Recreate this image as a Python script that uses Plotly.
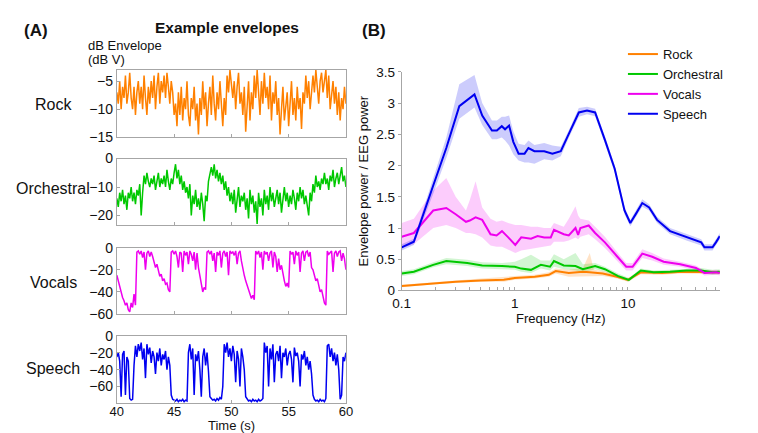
import plotly.graph_objects as go

# ---------------- Panel A: example envelopes (dB V), t = 40..60 s, step 0.125 s
time_s = [40 + i * 0.125 for i in range(161)]

rock_env = [-7, -9, -5, -10, -6, -8, -4, -9, -7,
            -3.5, -8, -10, -6, -11, -7, -5, -9,
            -6, -10, -4, -8, -11, -6, -9, -5,
            -8, -4, -10, -6, -3.5, -9, -5, -7,
            -4, -8, -3.5, -6, -9, -5, -7, -11,
            -9, -13, -7, -11, -6, -12, -8, -10,
            -5, -11, -13, -8, -10, -6, -12, -9,
            -14.5, -8, -11, -5, -10, -7, -13, -9,
            -6, -11, -4, -9, -12, -7, -10, -5,
            -9, -13, -8, -11, -4, -7, -3, -6,
            -8, -5, -10, -6, -3.5, -9, -7, -11,
            -6, -14, -9, -5, -12, -7, -10, -4,
            -8, -3, -7, -11, -5, -9, -3.5, -8,
            -6, -10, -4, -12, -7, -9, -5, -11,
            -8, -14.5, -10, -6, -12, -9, -7, -13,
            -9, -5, -11, -8, -12, -6, -10, -8,
            -13.5, -7, -9, -4, -8, -5, -10, -6,
            -4, -7, -3, -6, -9, -5, -3.5, -7,
            -5, -3, -8, -4, -10, -7, -5, -9,
            -6, -11, -7, -12, -8, -10, -6, -9]

orch_env = [-14, -17, -12, -15, -11, -16, -13, -18, -12,
            -14, -10, -15, -12, -16, -11, -13, -9,
            -20, -12, -6, -9, -5, -8, -10, -7,
            -9, -6, -11, -8, -5, -10, -7, -9,
            -6, -10, -4, -8, -11, -7, -9, -5,
            -2, -7, -4, -9, -6, -11, -8, -12,
            -10, -14, -9, -20, -13, -16, -11, -17,
            -14, -18, -12, -16, -22, -13, -15, -8,
            -5, -3, -6, -2, -7, -4, -8, -5,
            -9, -6, -11, -8, -13, -10, -15, -12,
            -16, -11, -19, -14, -10, -17, -13, -15,
            -12, -18, -14, -21, -11, -16, -13, -19,
            -15, -23, -12, -17, -14, -20, -11, -16,
            -13, -18, -10, -15, -12, -17, -14, -11,
            -16, -12, -19, -13, -10, -15, -12, -17,
            -13, -16, -11, -14, -18, -12, -15, -10,
            -14, -11, -16, -13, -17, -20, -12, -15,
            -9, -12, -6, -10, -8, -11, -7, -9,
            -5, -9, -7, -11, -6, -8, -4, -10,
            -7, -5, -9, -6, -3, -8, -6, -10]

vocals_env = [-25, -30, -36, -40, -45, -48, -52, -50, -56,
              -58, -50, -54, -42, -52, -4, -3, -6,
              -3, -9, -4, -20, -5, -3, -8, -4,
              -8, -12, -18, -15, -22, -26, -24, -30,
              -28, -33, -32, -38, -40, -4, -3, -6,
              -3, -8, -18, -4, -5, -22, -3, -7,
              -4, -15, -3, -6, -12, -4, -20, -5,
              -18, -26, -32, -40, -36, -38, -4, -3,
              -6, -3, -12, -5, -22, -4, -7, -3,
              -18, -5, -3, -8, -4, -25, -3, -5,
              -4, -7, -3, -15, -5, -3, -12, -20,
              -25, -30, -34, -38, -42, -46, -43, -47,
              -3, -6, -3, -9, -4, -20, -3, -6,
              -4, -12, -5, -3, -18, -4, -8, -22,
              -10, -20, -16, -25, -30, -35, -32, -36,
              -3, -6, -4, -15, -3, -7, -4, -22,
              -5, -3, -12, -4, -3, -8, -4, -18,
              -20, -25, -30, -28, -35, -40, -38, -45,
              -50, -52, -3, -6, -4, -3, -22, -5,
              -3, -8, -4, -3, -12, -5, -10, -20]

speech_env = [-25, -20, -30, -72, -22, -18, -70, -25, -30,
              -74, -76, -75, -35, -12, -25, -10, -18,
              -8, -28, -15, -50, -10, -22, -14, -32,
              -18, -25, -45, -20, -30, -15, -35, -22,
              -28, -18, -40, -25, -35, -70, -75, -76,
              -77, -75, -78, -76, -77, -75, -78, -76,
              -77, -20, -10, -28, -15, -70, -22, -30,
              -18, -40, -72, -25, -15, -35, -20, -42,
              -72, -74, -76, -75, -77, -74, -76, -73,
              -75, -60, -10, -20, -8, -25, -15, -30,
              -12, -22, -55, -18, -28, -60, -15, -25,
              -40, -72, -75, -77, -76, -78, -75, -77,
              -76, -78, -75, -77, -76, -74, -8, -20,
              -12, -60, -15, -28, -10, -55, -22, -18,
              -30, -12, -50, -20, -25, -15, -35, -22,
              -18, -28, -55, -14, -24, -20, -30, -60,
              -22, -28, -18, -35, -25, -40, -30, -45,
              -70, -75, -77, -76, -78, -75, -77, -76,
              -78, -74, -12, -10, -25, -15, -30, -20,
              -35, -22, -40, -75, -70, -25, -30, -20]

# ---------------- Panel B: envelope power / EEG power
freq_speech = [0.1, 0.128, 0.19, 0.248, 0.323, 0.44, 0.515, 0.628, 0.694, 0.767, 0.82, 0.89, 0.97,
               1.08, 1.22, 1.32, 1.49, 1.82, 2.15, 2.55, 3.01, 3.68, 4.35, 5.13, 6.26, 7.64, 9.33,
               10.5, 11.8, 13.4, 15.4, 18.1, 23.6, 32.9, 44.5, 47.5, 56, 60, 65]
speech_pow = [0.69, 0.78, 1.68, 2.28, 2.95, 3.14, 2.80, 2.56, 2.56, 2.63, 2.58, 2.64, 2.38,
              2.19, 2.19, 2.28, 2.23, 2.23, 2.19, 2.23, 2.51, 2.85, 2.88, 2.85, 2.41, 1.95, 1.28,
              1.08, 1.23, 1.40, 1.33, 1.13, 0.95, 0.85, 0.77, 0.69, 0.69, 0.77, 0.87]
speech_hi = [0.74, 0.83, 1.80, 2.45, 3.30, 3.45, 3.00, 2.72, 2.72, 2.78, 2.78, 2.80, 2.55,
             2.35, 2.33, 2.40, 2.33, 2.36, 2.32, 2.30, 2.57, 2.92, 2.94, 2.91, 2.47, 2.01, 1.34,
             1.13, 1.29, 1.46, 1.38, 1.18, 1.00, 0.90, 0.82, 0.74, 0.74, 0.82, 0.92]
speech_lo = [0.64, 0.73, 1.55, 2.12, 2.75, 2.93, 2.65, 2.42, 2.42, 2.45, 2.40, 2.32, 2.18,
             2.08, 2.05, 2.05, 2.03, 2.10, 2.08, 2.15, 2.45, 2.78, 2.82, 2.79, 2.35, 1.89, 1.22,
             1.03, 1.17, 1.34, 1.28, 1.08, 0.90, 0.80, 0.72, 0.64, 0.64, 0.72, 0.82]

freq_vocals = [0.1, 0.128, 0.19, 0.248, 0.30, 0.37, 0.40, 0.45, 0.515, 0.61, 0.69, 0.77, 0.875,
               1.01, 1.14, 1.39, 1.59, 1.82, 2.08, 2.22, 2.71, 3.0, 3.44, 3.63, 3.8, 4.5, 5.13,
               6.26, 7.9, 9.66, 11.0, 13.4, 16.4, 20.7, 29, 40, 47.5, 60, 65]
vocals_pow = [0.86, 0.92, 1.28, 1.32, 1.22, 1.10, 1.12, 1.17, 1.13, 0.90, 0.88, 0.95, 0.85,
              0.73, 0.85, 0.83, 0.87, 0.85, 0.85, 0.97, 0.90, 0.88, 1.00, 0.89, 1.00, 1.04, 0.92,
              0.77, 0.56, 0.38, 0.38, 0.59, 0.54, 0.46, 0.42, 0.36, 0.28, 0.29, 0.28]
vocals_hi = [1.08, 1.15, 1.60, 1.80, 1.50, 1.28, 1.45, 1.75, 1.33, 1.15, 1.10, 1.12, 1.08,
             1.05, 1.05, 1.02, 1.02, 1.00, 1.00, 1.08, 1.02, 1.15, 1.35, 1.20, 1.15, 1.12, 1.02,
             0.86, 0.63, 0.44, 0.44, 0.66, 0.60, 0.51, 0.46, 0.40, 0.32, 0.33, 0.32]
vocals_lo = [0.68, 0.74, 1.00, 1.05, 1.00, 0.92, 0.92, 0.90, 0.85, 0.72, 0.70, 0.70, 0.65,
             0.60, 0.64, 0.66, 0.68, 0.70, 0.72, 0.78, 0.78, 0.80, 0.85, 0.82, 0.86, 0.90, 0.82,
             0.68, 0.49, 0.32, 0.32, 0.52, 0.48, 0.41, 0.38, 0.32, 0.24, 0.25, 0.24]

freq_orch = [0.1, 0.128, 0.19, 0.248, 0.38, 0.515, 0.77, 1.0, 1.14, 1.39, 1.7, 2.05, 2.22, 2.71,
             3.44, 4.0, 5.13, 6.26, 8.2, 10.2, 13, 16.9, 23.6, 32.9, 44.5, 56, 65]
orch_pow = [0.27, 0.30, 0.41, 0.47, 0.44, 0.40, 0.39, 0.38, 0.35, 0.33, 0.41, 0.38, 0.47, 0.40,
            0.39, 0.34, 0.39, 0.34, 0.23, 0.17, 0.32, 0.29, 0.30, 0.32, 0.32, 0.29, 0.30]
orch_hi = [0.31, 0.34, 0.45, 0.52, 0.49, 0.45, 0.44, 0.46, 0.50, 0.57, 0.48, 0.48, 0.58, 0.50,
           0.60, 0.42, 0.44, 0.38, 0.27, 0.20, 0.35, 0.32, 0.33, 0.35, 0.36, 0.33, 0.34]
orch_lo = [0.23, 0.26, 0.37, 0.42, 0.39, 0.35, 0.34, 0.33, 0.30, 0.28, 0.35, 0.32, 0.38, 0.34,
           0.32, 0.29, 0.34, 0.30, 0.20, 0.14, 0.29, 0.26, 0.27, 0.29, 0.28, 0.25, 0.26]

freq_rock = [0.1, 0.2, 0.3, 0.5, 0.8, 1.0, 1.5, 2.0, 2.3, 3.0, 4.0, 4.6, 5.0, 6.0, 8.0, 10.0,
             13.0, 20.0, 30.0, 45.0, 65.0]
rock_pow = [0.07, 0.12, 0.14, 0.16, 0.17, 0.20, 0.22, 0.25, 0.31, 0.28, 0.30, 0.29, 0.28, 0.27,
            0.22, 0.17, 0.29, 0.28, 0.30, 0.30, 0.29]
rock_hi = [0.09, 0.14, 0.16, 0.19, 0.21, 0.23, 0.25, 0.29, 0.35, 0.33, 0.36, 0.60, 0.33, 0.31,
           0.25, 0.20, 0.32, 0.31, 0.33, 0.33, 0.32]
rock_lo = [0.05, 0.10, 0.12, 0.14, 0.14, 0.17, 0.19, 0.22, 0.27, 0.22, 0.22, 0.22, 0.23, 0.23,
           0.19, 0.14, 0.26, 0.25, 0.27, 0.27, 0.26]

genres = ["Rock", "Orchestral", "Vocals", "Speech"]
colors = {"Rock": "#FF8000", "Orchestral": "#00C800", "Vocals": "#EE00EE", "Speech": "#0000F0"}
bands = {"Rock": "rgba(255,128,0,0.22)", "Orchestral": "rgba(0,200,0,0.18)",
         "Vocals": "rgba(238,0,238,0.2)", "Speech": "rgba(0,0,240,0.2)"}

W, H = 758, 433
FONT = "Liberation Sans, Arial, sans-serif"
AX = "#a6a6a6"

fig = go.Figure()

# ---- left panels
env = {"Rock": rock_env, "Orchestral": orch_env, "Vocals": vocals_env, "Speech": speech_env}
rows = {  # (top px, bottom px, y range, y ticks)
    "Rock": (56, 126, [-15, -3], [-15, -10, -5]),
    "Orchestral": (148, 217.5, [-23.5, 0], [-20, -10, 0]),
    "Vocals": (240.5, 309.5, [-60, 0], [-60, -40, -20, 0]),
    "Speech": (332, 401.5, [-79, 0], [-60, -40, -20, 0]),
}
label_y = {"Rock": 92, "Orchestral": 179, "Vocals": 277, "Speech": 366}
x0, x1 = 102 / W, 336 / W
for k, g in enumerate(genres):
    n = "" if k == 0 else str(k + 1)
    top, bot, yr, yt = rows[g]
    fig.add_trace(go.Scatter(x=time_s, y=env[g], mode="lines", showlegend=False,
                             line=dict(color=colors[g], width=1.5),
                             xaxis="x" + n, yaxis="y" + n))
    fig.layout["xaxis" + n] = dict(domain=[x0, x1], range=[40, 60], anchor="y" + n,
                                   tickvals=[40, 45, 50, 55, 60], ticks="inside", ticklen=3,
                                   tickcolor=AX, showline=True, linecolor=AX, mirror=True,
                                   showgrid=False, zeroline=False,
                                   showticklabels=(g == "Speech"),
                                   ticklabelstandoff=-3,
                                   tickfont=dict(size=13, color="#111"))
    fig.layout["yaxis" + n] = dict(domain=[1 - bot / H, 1 - top / H], range=yr,
                                   anchor="x" + n, tickvals=yt, ticks="inside", ticklen=3,
                                   tickcolor=AX, showline=True, linecolor=AX, mirror=True,
                                   showgrid=False, zeroline=False,
                                   tickfont=dict(size=14, color="#111"))
    fig.add_annotation(x=37 / W, y=1 - label_y[g] / H, xref="paper", yref="paper",
                       text=g, showarrow=False, font=dict(size=16, color="#111"),
                       xanchor="center", yanchor="middle")

# ---- right panel
spec = {"Rock": (freq_rock, rock_pow, rock_hi, rock_lo),
        "Orchestral": (freq_orch, orch_pow, orch_hi, orch_lo),
        "Vocals": (freq_vocals, vocals_pow, vocals_hi, vocals_lo),
        "Speech": (freq_speech, speech_pow, speech_hi, speech_lo)}
for g in genres:
    f, m, hi, lo = spec[g]
    fig.add_trace(go.Scatter(x=list(f) + list(f)[::-1], y=list(hi) + list(lo)[::-1],
                             fill="toself", fillcolor=bands[g], line=dict(width=0),
                             mode="lines", hoverinfo="skip", showlegend=False,
                             xaxis="x5", yaxis="y5"))
for g in genres:
    f, m, hi, lo = spec[g]
    fig.add_trace(go.Scatter(x=f, y=m, mode="lines", name=g,
                             line=dict(color=colors[g], width=2),
                             xaxis="x5", yaxis="y5"))

minor = [0.1 * k for k in range(1, 10)] + [float(k) for k in range(1, 10)] + \
        [10.0 * k for k in range(1, 7)]
minor_txt = ["0.1" if abs(v - 0.1) < 1e-9 else "1" if v == 1 else "10" if v == 10 else ""
             for v in minor]
fig.layout.xaxis5 = dict(domain=[393 / W, 718 / W], type="log", range=[-1, 1.8129],
                         anchor="y5", tickvals=minor, ticktext=minor_txt, ticks="inside",
                         ticklen=3, tickcolor=AX, showline=True, linecolor=AX,
                         showgrid=False, zeroline=False,
                         tickfont=dict(size=13.5, color="#111"),
                         title=dict(text="Frequency (Hz)", font=dict(size=13, color="#111"),
                                    standoff=3))
fig.layout.yaxis5 = dict(domain=[1 - 285 / H, 1 - 58 / H], range=[0, 3.5], anchor="x5",
                         tickvals=[0, 0.5, 1, 1.5, 2, 2.5, 3, 3.5],
                         ticktext=["0", "0.5", "1", "1.5", "2", "2.5", "3", "3.5"],
                         ticks="outside", ticklen=3, tickcolor=AX, showline=True,
                         linecolor=AX, showgrid=False, zeroline=False,
                         tickfont=dict(size=13.5, color="#111"),
                         title=dict(text="Envelope power / EEG power",
                                    font=dict(size=13, color="#111"), standoff=4))

# ---- texts
texts = [
    ("(A)", 19, 15, 17, True, "center"),
    ("(B)", 365, 15, 17, True, "center"),
    ("Example envelopes", 215, 12, 15.5, True, "center"),
    ("dB Envelope", 72, 31, 13, False, "left"),
    ("(dB V)", 72, 45, 13, False, "left"),
    ("Time (s)", 219, 425.5, 13, False, "center"),
]
for t, px, py, sz, bold, anc in texts:
    fig.add_annotation(x=px / W, y=1 - py / H, xref="paper", yref="paper",
                       text=f"<b>{t}</b>" if bold else t, showarrow=False,
                       font=dict(size=sz, color="#111"), xanchor=anc, yanchor="middle",
                       borderpad=0)

fig.update_layout(
    width=W, height=H, margin=dict(l=0, r=0, t=0, b=0),
    paper_bgcolor="white", plot_bgcolor="white",
    font=dict(family=FONT, color="#111"),
    legend=dict(x=619 / W, y=1 - 24 / H, xanchor="left", yanchor="top",
                font=dict(size=13, color="#111"), bgcolor="rgba(0,0,0,0)",
                itemwidth=30, tracegroupgap=0),
)

fig.write_html("out.html")
